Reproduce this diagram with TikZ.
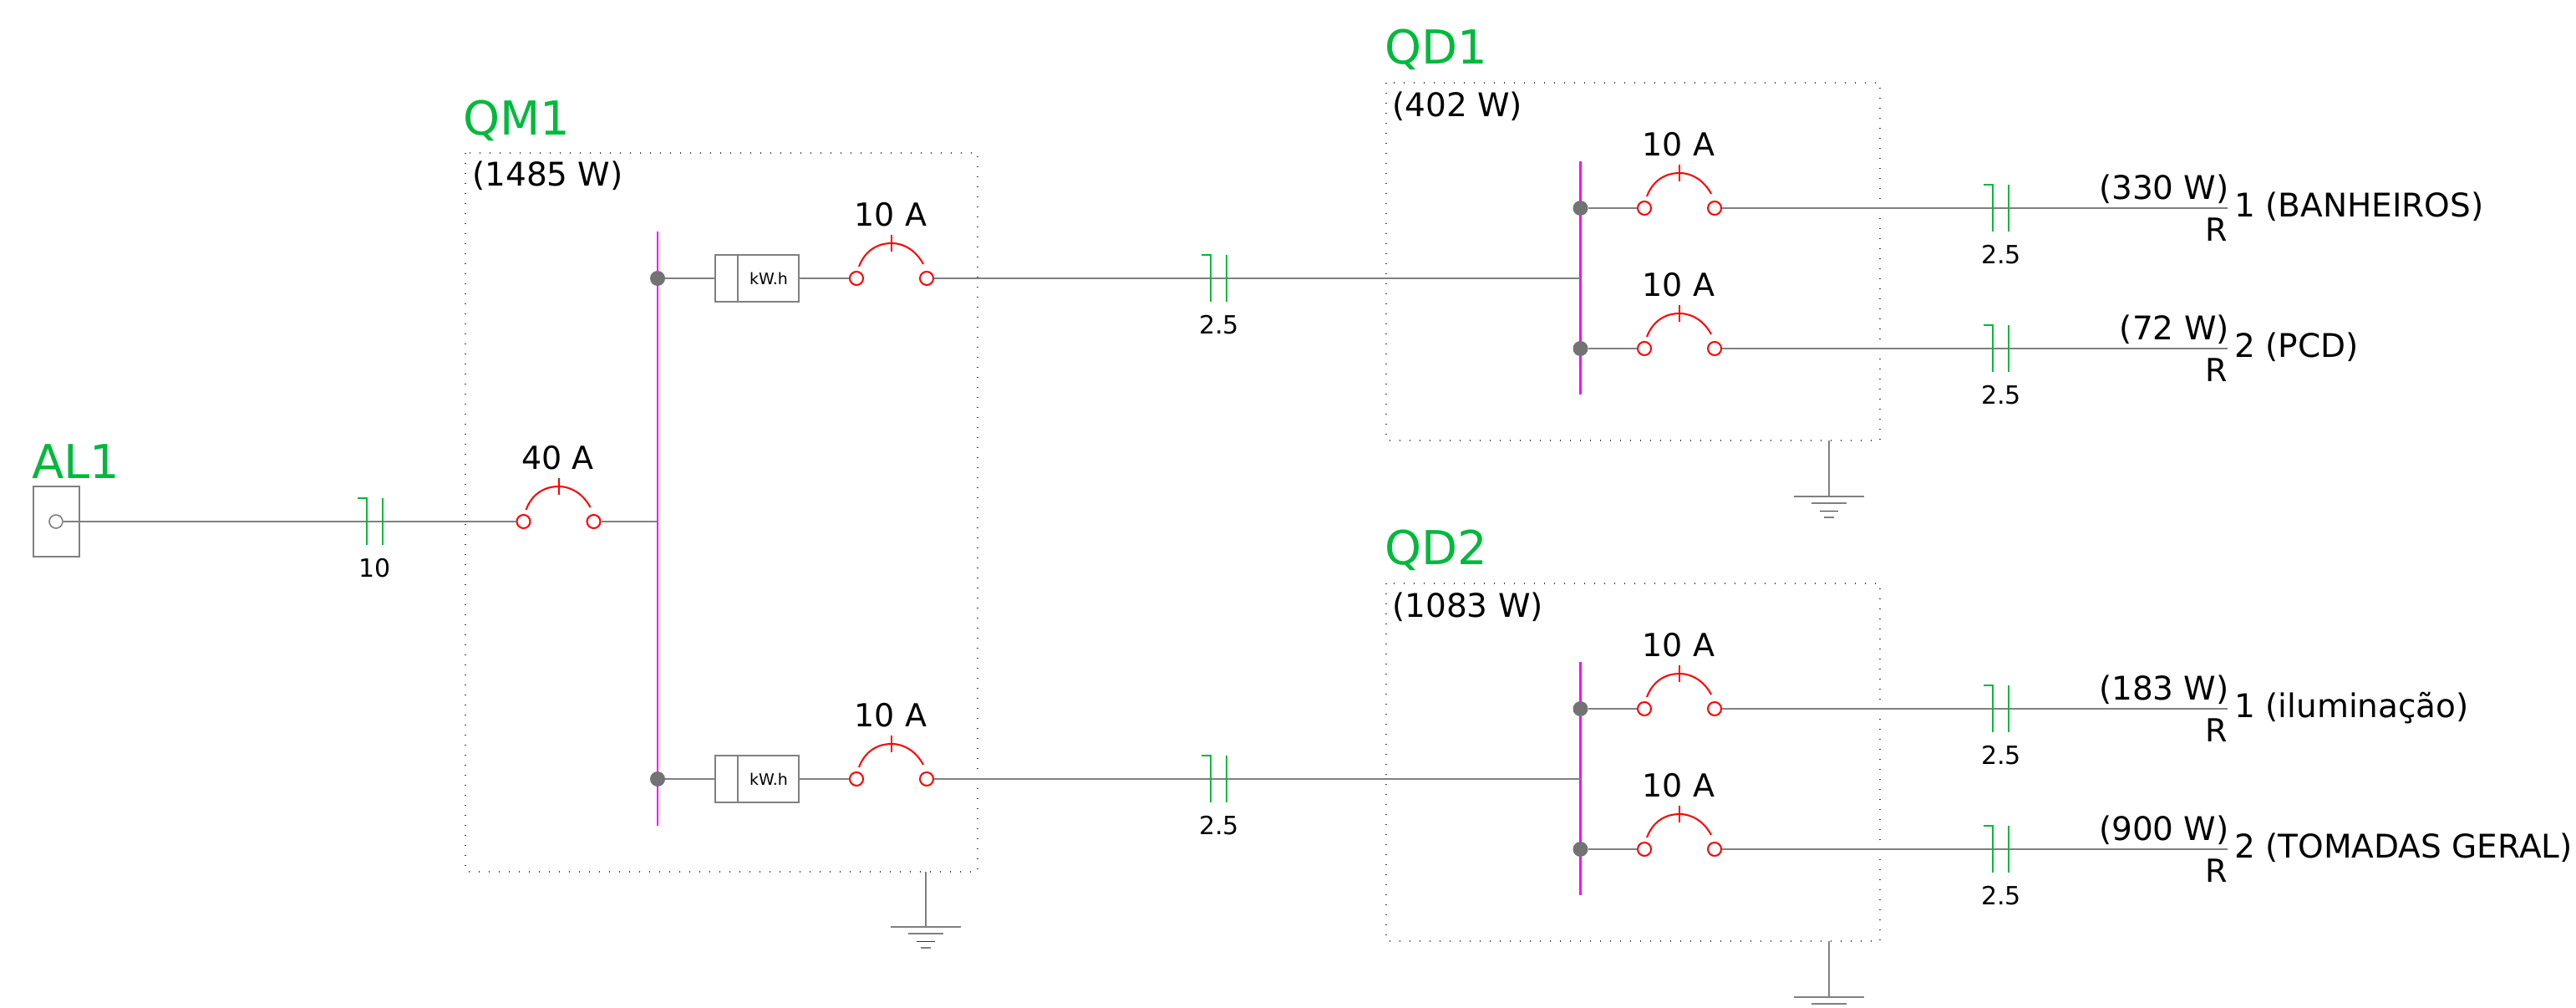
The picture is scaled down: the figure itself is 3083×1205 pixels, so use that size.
\documentclass[tikz,border=0pt]{standalone}
\usepackage{fontspec}
\setmainfont{DejaVu Sans}
\definecolor{wgrey}{RGB}{128,128,128}
\definecolor{wgreen}{RGB}{0,185,60}
\definecolor{wred}{RGB}{255,0,0}
\definecolor{wmag}{RGB}{255,0,255}
\newcommand{\fsz}[1]{\fontsize{#1}{#1}\selectfont}
\tikzset{
  x=1pt,y=-1pt,
  wire/.style={draw=wgrey,line width=2pt},
  pan/.style={draw=black!75,line width=1.3pt,dash pattern=on 1.3pt off 10.7pt},
  busbar/.style={draw=wmag,line width=2.2pt},
  redl/.style={draw=wred,line width=2pt},
  term/.style={circle,draw=wred,line width=2pt,fill=white,minimum size=16pt,inner sep=0pt},
  jun/.style={circle,fill=wgrey!90!black,minimum size=18pt,inner sep=0pt},
  tagt/.style={inner sep=0pt,text=wgreen,font=\fsz{56},anchor=base west},
  mid/.style={inner sep=0pt,font=\fsz{38}},
  pwr/.style={inner sep=0pt,font=\fsz{39}},
  sml/.style={inner sep=0pt,font=\fsz{30},anchor=base},
  cond/.style={draw=wgreen,line width=1.4pt},
  metr/.style={draw=wgrey,line width=2pt,fill=white,minimum width=100pt,minimum height=56pt,inner sep=0pt},
}
% breaker: #1 name, #2 left x, #3 y, #4 label
\newcommand{\brk}[4]{%
  \node[term] (#1a) at (#2,#3) {};
  \node[term] (#1b) at (#2+84,#3) {};
  \coordinate (#1t) at (#2+42,#3-42);
  \draw[redl] (#2+3,#3-14) .. controls (#2+10,#3-33) and (#2+25,#3-42) .. (#1t)
     .. controls (#2+58,#3-42) and (#2+72,#3-32) .. (#2+80,#3-17);
  \draw[redl] (#2+42,#3-52) -- (#2+42,#3-32);
  \node[mid,anchor=base] (#1l) at (#2+41,#3-63) {#4};
}
% conductor mark: #1 name, #2 x, #3 y, #4 text
\newcommand{\cnd}[4]{%
  \coordinate (#1p) at (#2,#3);
  \draw[cond] (#2-11,#3-28) -- (#2,#3-28) -- (#2,#3+28);
  \draw[cond] (#2+19,#3-28) -- (#2+19,#3+28);
  \node[sml] (#1l) at (#2+10,#3+66) {#4};
}
% ground: #1 name, #2 x, #3 top y, #4 bar y
\newcommand{\gnd}[4]{%
  \coordinate (#1a) at (#2,#3);
  \coordinate (#1b) at (#2,#4);
  \draw[wire] (#1a) -- (#1b);
  \draw[wire] (#2-42,#4) -- (#2+42,#4);
  \draw[wire] (#2-21,#4+8) -- (#2+21,#4+8);
}
% circuit row in a distribution board: #1 name, #2 y, #3 power, #4 circuit, #5 label
\newcommand{\row}[5]{%
  \node[jun] (#1j) at (1891.5,#2) {};
  \brk{#1}{1968}{#2}{10 A}
  \coordinate (#1e) at (2666,#2);
  \draw[wire] (#1j) -- (#1a);
  \draw[wire] (#1b) -- (#1e);
  \cnd{#1c}{2385}{#2}{2.5}
  \node[pwr,anchor=base east] (#1p) at (2668,#2-11) {#3};
  \node[mid,anchor=base east] (#1r) at (2666,#2+39) {R};
  \node[pwr,anchor=base west] (#1n) at (2674,#2+10) {#4 (#5)};
}
\begin{document}
\begin{tikzpicture}
\useasboundingbox (0,0) rectangle (3083,1205);
% panels
\draw[pan] (557,183) rectangle (1170,1043);
\draw[pan] (1659,99) rectangle (2250,527);
\draw[pan] (1659,698) rectangle (2250,1126);
% tags
\node[tagt] (al) at (38,572) {AL1};
\node[tagt] (qm) at (554,161) {QM1};
\node[tagt] (q1) at (1657,76) {QD1};
\node[tagt] (q2) at (1657,675) {QD2};
\node[pwr,anchor=base west] (qmw) at (565,222) {(1485 W)};
\node[pwr,anchor=base west] (q1w) at (1666,139.5) {(402 W)};
\node[pwr,anchor=base west] (q2w) at (1666,738.5) {(1083 W)};
% source
\node[draw=wgrey,line width=2pt,minimum width=55pt,minimum height=84pt,inner sep=0pt] (src) at (67.5,624) {};
\node[circle,draw=wgrey,line width=1.6pt,fill=white,minimum size=16pt,inner sep=0pt] (srcc) at (67,624) {};
% busbars
\coordinate (bmt) at (787,277); \coordinate (bmb) at (787,988);
\coordinate (b1t) at (1891.5,193); \coordinate (b1b) at (1891.5,472);
\coordinate (b2t) at (1891.5,792); \coordinate (b2b) at (1891.5,1071);
\draw[busbar] (bmt) -- (bmb);
\draw[busbar] (b1t) -- (b1b);
\draw[busbar] (b2t) -- (b2b);
% main breaker
\brk{m}{626.5}{624}{40 A}
\coordinate (mbus) at (787,624);
\draw[wire] (srcc) -- (ma);
\draw[wire] (mb) -- (mbus);
\cnd{mc}{439}{624}{10}
% QM1 outgoing
\node[jun] (j1) at (787,333) {};
\node[metr] (k1) at (906,333) {};
\draw[wire] ([xshift=28pt]k1.north west) -- ([xshift=28pt]k1.south west);
\node[inner sep=0pt,font=\fsz{19}] (k1t) at (920,333) {kW.h};
\brk{u}{1025}{333}{10 A}
\coordinate (f1) at (1891.5,333);
\draw[wire] (j1) -- (k1);
\draw[wire] (k1) -- (ua);
\draw[wire] (ub) -- (f1);
\cnd{uc}{1449}{333}{2.5}
\node[jun] (j2) at (787,932) {};
\node[metr] (k2) at (906,932) {};
\draw[wire] ([xshift=28pt]k2.north west) -- ([xshift=28pt]k2.south west);
\node[inner sep=0pt,font=\fsz{19}] (k2t) at (920,932) {kW.h};
\brk{v}{1025}{932}{10 A}
\coordinate (f2) at (1891.5,932);
\draw[wire] (j2) -- (k2);
\draw[wire] (k2) -- (va);
\draw[wire] (vb) -- (f2);
\cnd{vc}{1449}{932}{2.5}
% circuits
\row{a}{249}{(330 W)}{1}{BANHEIROS}
\row{b}{417}{(72 W)}{2}{PCD}
\row{c}{848}{(183 W)}{1}{iluminação}
\row{d}{1016}{(900 W)}{2}{TOMADAS GERAL}
% grounds
\gnd{g1}{1108}{1043}{1109}
\draw[draw=black!80,line width=1pt] (1097,1126) -- (1119,1126);
\draw[wire] (1102,1134) -- (1114,1134);
\gnd{g2}{2189}{527}{594}
\draw[draw=black!80,line width=1pt] (2178,611) -- (2200,611);
\draw[wire] (2183,619) -- (2195,619);
\gnd{g3}{2189}{1126}{1193}
\end{tikzpicture}
\end{document}
